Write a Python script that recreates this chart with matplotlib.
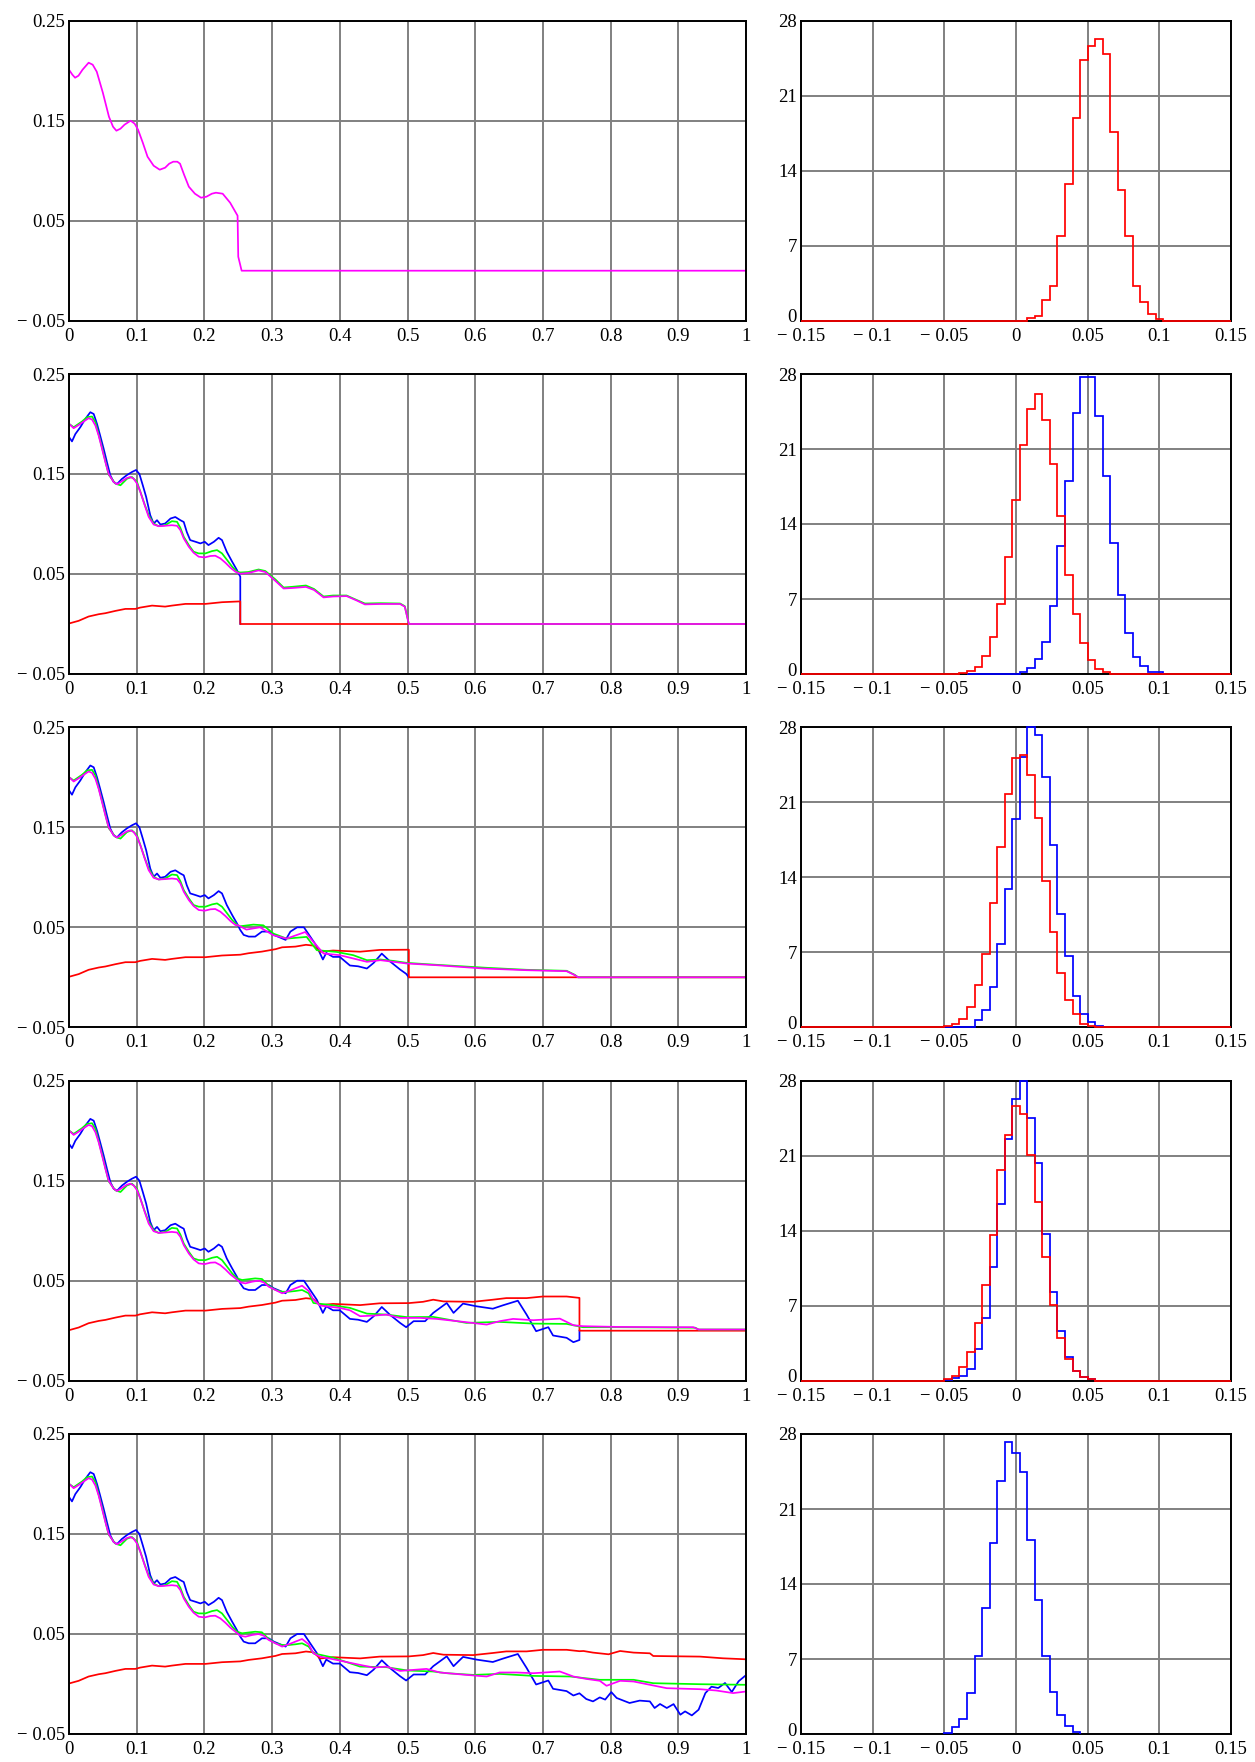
import numpy as np
import matplotlib
matplotlib.use("Agg")
import matplotlib.pyplot as plt
from matplotlib.transforms import ScaledTranslation

plt.rcParams["font.family"] = ["Liberation Serif", "DejaVu Serif"]

# ------------------------------------------------
# left panels: time traces
# ------------------------------------------------
# panel 1, single smoothed trace
p1_t = [0, 0.005, 0.009, 0.014, 0.02, 0.029, 0.035, 0.041, 0.05, 0.059, 0.065,
        0.07, 0.076, 0.082, 0.091, 0.097, 0.102, 0.109, 0.116, 0.125, 0.134,
        0.142, 0.148, 0.154, 0.16, 0.164, 0.17, 0.177, 0.186, 0.195, 0.203,
        0.211, 0.217, 0.227, 0.238, 0.249, 0.25, 0.255, 1.0]
p1_mag = [0.201, 0.196, 0.193, 0.195, 0.201, 0.208, 0.206, 0.199, 0.178, 0.154, 0.144,
          0.14, 0.142, 0.146, 0.15, 0.147, 0.141, 0.128, 0.114, 0.105, 0.101,
          0.103, 0.107, 0.109, 0.109, 0.107, 0.096, 0.084, 0.077, 0.073, 0.074,
          0.077, 0.078, 0.077, 0.068, 0.055, 0.014, 0.0, 0.0]

# filtered estimate (blue), causal: shown up to each panel's horizon
blue_t = [0, 0.0044, 0.0094, 0.0167, 0.024, 0.0315, 0.0365, 0.0414, 0.046, 0.0512,
          0.056, 0.061, 0.066, 0.071, 0.078, 0.0857, 0.093, 0.099, 0.104, 0.109,
          0.114, 0.12, 0.125, 0.13, 0.135, 0.142, 0.15, 0.157, 0.1645, 0.1695,
          0.174, 0.179, 0.187, 0.194, 0.2005, 0.206, 0.214, 0.221, 0.226, 0.233,
          0.241, 0.248, 0.253, 0.258, 0.2655, 0.275, 0.285, 0.295, 0.3025, 0.312,
          0.32, 0.327, 0.337, 0.347, 0.356, 0.366, 0.375, 0.38, 0.39, 0.4,
          0.415, 0.427, 0.44, 0.45, 0.462, 0.474, 0.489, 0.498, 0.509, 0.526,
          0.538, 0.558, 0.568, 0.582, 0.602, 0.626, 0.641, 0.663, 0.676, 0.69,
          0.708, 0.715, 0.735, 0.745, 0.754, 0.764, 0.774, 0.784, 0.792, 0.801,
          0.809, 0.828, 0.843, 0.858, 0.865, 0.873, 0.883, 0.893, 0.903, 0.91,
          0.92, 0.93, 0.94, 0.949, 0.959, 0.969, 0.979, 0.989, 0.999]
blue_v = [0.187, 0.1826, 0.19, 0.1968, 0.205, 0.2118, 0.21, 0.2, 0.1885, 0.1752,
          0.162, 0.1487, 0.142, 0.14, 0.145, 0.149, 0.152, 0.154, 0.15, 0.1387,
          0.127, 0.1088, 0.1005, 0.1038, 0.0995, 0.1005, 0.1055, 0.107, 0.1038, 0.102,
          0.092, 0.0839, 0.0822, 0.0806, 0.0822, 0.0789, 0.0822, 0.0862, 0.0839, 0.0723,
          0.0623, 0.054, 0.0473, 0.0424, 0.0407, 0.0407, 0.0457, 0.0457, 0.0424, 0.0397,
          0.0374, 0.0457, 0.05, 0.05, 0.041, 0.031, 0.0178, 0.0244, 0.0204, 0.0204,
          0.0118, 0.011, 0.0088, 0.0144, 0.0237, 0.016, 0.0078, 0.0035, 0.0095, 0.0095,
          0.0178, 0.0277, 0.0178, 0.0271, 0.0244, 0.022, 0.0254, 0.03, 0.016, -0.0005,
          0.0035, -0.0048, -0.0071, -0.0115, -0.0093, -0.015, -0.0174, -0.0134, -0.0156, -0.0081,
          -0.014, -0.019, -0.0166, -0.0174, -0.024, -0.02, -0.024, -0.0201, -0.0307, -0.0274,
          -0.0314, -0.0257, -0.0091, -0.0027, -0.004, 0.001, -0.008, 0.0027, 0.0083]

# error level (red), causal as well
red_t = [0, 0.0143, 0.029, 0.044, 0.0537, 0.0685, 0.0833, 0.098, 0.105, 0.1227,
         0.142, 0.152, 0.172, 0.2015, 0.226, 0.2458, 0.253, 0.2655, 0.285, 0.305,
         0.3148, 0.3345, 0.35, 0.361, 0.371, 0.39, 0.43, 0.459, 0.502, 0.523,
         0.538, 0.553, 0.597, 0.626, 0.646, 0.676, 0.7, 0.735, 0.754, 0.76,
         0.774, 0.797, 0.814, 0.834, 0.858, 0.863, 0.932, 0.966, 1.0]
red_v = [0.0005, 0.0032, 0.0075, 0.0098, 0.0108, 0.0131, 0.0151, 0.0151, 0.0164, 0.0184,
         0.0174, 0.0184, 0.0201, 0.0201, 0.0218, 0.0224, 0.0226, 0.0241, 0.0257, 0.0281,
         0.03, 0.0307, 0.0325, 0.0317, 0.0255, 0.0268, 0.0256, 0.0274, 0.0276, 0.0289,
         0.031, 0.0293, 0.0289, 0.031, 0.0326, 0.0326, 0.0342, 0.0342, 0.0328, 0.033,
         0.0314, 0.0297, 0.033, 0.0314, 0.0307, 0.028, 0.0274, 0.0257, 0.0247]

# smoothed estimates, beginning shared by panels 2-5
mag_head_t = [0, 0.0069, 0.0143, 0.0217, 0.029, 0.034, 0.039, 0.0438, 0.0488, 0.0537,
              0.0586, 0.066, 0.071, 0.078, 0.0857, 0.0906, 0.0955, 0.1005, 0.1054, 0.1118,
              0.1177, 0.125, 0.1325, 0.142, 0.152, 0.1596, 0.1645, 0.1695, 0.177, 0.184,
              0.1916, 0.2005, 0.2089, 0.216, 0.2236, 0.231, 0.2384, 0.2458]
mag_head_v = [0.2002, 0.1958, 0.199, 0.2025, 0.2058, 0.2045, 0.1985, 0.1885, 0.1752, 0.162,
              0.15, 0.142, 0.1397, 0.1427, 0.146, 0.147, 0.1453, 0.1404, 0.132, 0.1188,
              0.1071, 0.0995, 0.0978, 0.0982, 0.0988, 0.0982, 0.0939, 0.0856, 0.0772, 0.0713,
              0.0673, 0.0666, 0.068, 0.0683, 0.0656, 0.0613, 0.0563, 0.0523]
grn_head_t = [0, 0.0069, 0.0192, 0.0266, 0.034, 0.039, 0.0488, 0.0586, 0.0685, 0.076,
              0.0857, 0.093, 0.1005, 0.1118, 0.1177, 0.125, 0.1325, 0.142, 0.152, 0.1596,
              0.1645, 0.1695, 0.177, 0.184, 0.1916, 0.2015, 0.2113, 0.2187, 0.226, 0.2335,
              0.241, 0.2483]
grn_head_v = [0.2002, 0.1968, 0.2025, 0.2068, 0.2075, 0.2018, 0.1765, 0.1493, 0.1404, 0.1387,
              0.1453, 0.147, 0.142, 0.1195, 0.1088, 0.1005, 0.0978, 0.0988, 0.1028, 0.1022,
              0.0962, 0.0872, 0.0789, 0.0723, 0.0706, 0.0706, 0.0729, 0.0739, 0.0706, 0.064,
              0.0573, 0.0523]

# part from 0.25 to 0.354 shared by panels 4 and 5
mag_mid_t = [0.253, 0.2606, 0.2704, 0.28, 0.2877, 0.295, 0.305, 0.3148, 0.3246, 0.3345,
             0.3443, 0.354]
mag_mid_v = [0.0483, 0.0473, 0.049, 0.05, 0.0483, 0.044, 0.0407, 0.0374, 0.0397, 0.0424,
             0.045, 0.0397]
grn_mid_t = [0.2557, 0.275, 0.285, 0.295, 0.305, 0.3148, 0.3246, 0.3345, 0.3443, 0.354]
grn_mid_v = [0.0507, 0.0523, 0.0517, 0.045, 0.0407, 0.039, 0.039, 0.0397, 0.0407, 0.0374]

# per-panel tails
mag_p2_t = [0.253, 0.265, 0.28, 0.29, 0.305, 0.317, 0.33, 0.35, 0.362, 0.376,
            0.39, 0.41, 0.425, 0.437, 0.46, 0.489, 0.496, 0.502, 1.0]
mag_p2_v = [0.0503, 0.051, 0.0536, 0.052, 0.043, 0.0355, 0.036, 0.0371, 0.034, 0.0266,
            0.0275, 0.0279, 0.0235, 0.0196, 0.02, 0.02, 0.0173, 0.0, 0.0]
grn_p2_t = [0.253, 0.265, 0.28, 0.29, 0.305, 0.317, 0.33, 0.35, 0.362, 0.376,
            0.39, 0.41, 0.425, 0.437, 0.46, 0.489, 0.496, 0.502, 1.0]
grn_p2_v = [0.0515, 0.052, 0.0545, 0.053, 0.0445, 0.0365, 0.0372, 0.0385, 0.035, 0.0275,
            0.0285, 0.0285, 0.024, 0.0205, 0.0208, 0.0205, 0.0178, 0.0, 0.0]

mag_p3_t = [0.25, 0.262, 0.282, 0.302, 0.3215, 0.349, 0.361, 0.376, 0.4, 0.42,
            0.44, 0.46, 0.479, 0.499, 0.543, 0.612, 0.676, 0.735, 0.747, 0.752, 1.0]
mag_p3_v = [0.052, 0.0477, 0.05, 0.042, 0.0387, 0.0453, 0.0354, 0.0238, 0.0221, 0.0188,
            0.0155, 0.0171, 0.0155, 0.0138, 0.0121, 0.0088, 0.0071, 0.0061, 0.0022, 0.0, 0.0]
grn_p3_t = [0.2526, 0.2723, 0.287, 0.302, 0.3215, 0.351, 0.366, 0.395, 0.42, 0.44,
            0.46, 0.479, 0.499, 0.543, 0.617, 0.676, 0.735, 0.747, 0.752, 1.0]
grn_p3_v = [0.051, 0.0527, 0.052, 0.0437, 0.0387, 0.0404, 0.0271, 0.0254, 0.0221, 0.0171,
            0.0178, 0.0164, 0.0144, 0.0125, 0.0095, 0.0075, 0.0065, 0.0025, 0.0, 0.0]

mag_p4_t = [0.361, 0.371, 0.4, 0.415, 0.43, 0.45, 0.469, 0.489, 0.518, 0.543,
            0.587, 0.617, 0.636, 0.656, 0.686, 0.725, 0.745, 0.759, 0.809, 0.883,
            0.922, 0.93, 1.0]
mag_p4_v = [0.0311, 0.0251, 0.0228, 0.0204, 0.0145, 0.0151, 0.0161, 0.0128, 0.0128, 0.0118,
            0.0085, 0.0061, 0.0095, 0.0118, 0.0105, 0.0121, 0.0055, 0.0045, 0.0038, 0.0035,
            0.0035, 0.0012, 0.0012]
grn_p4_t = [0.361, 0.39, 0.415, 0.44, 0.469, 0.5, 0.538, 0.587, 0.636, 0.686,
            0.735, 0.759, 0.809, 0.883, 0.925, 0.93, 1.0]
grn_p4_v = [0.0277, 0.0254, 0.0228, 0.0171, 0.0161, 0.0135, 0.0138, 0.0078, 0.0088, 0.0071,
            0.0068, 0.0035, 0.0035, 0.0032, 0.003, 0.0012, 0.0012]

mag_p5_t = [0.361, 0.371, 0.4, 0.43, 0.45, 0.469, 0.489, 0.528, 0.548, 0.587,
            0.617, 0.636, 0.661, 0.686, 0.725, 0.745, 0.764, 0.784, 0.794, 0.814,
            0.834, 0.858, 0.883, 0.932, 0.956, 0.981, 1.0]
mag_p5_v = [0.0307, 0.0274, 0.0234, 0.0191, 0.0164, 0.0174, 0.0131, 0.0151, 0.0115, 0.0091,
            0.0075, 0.0115, 0.0115, 0.0108, 0.0125, 0.0075, 0.0051, 0.0032, -0.0018, 0.0032,
            0.0025, -0.0008, -0.0042, -0.0052, -0.0065, -0.0091, -0.0075]
grn_p5_t = [0.361, 0.39, 0.43, 0.469, 0.5, 0.538, 0.558, 0.597, 0.636, 0.686,
            0.74, 0.784, 0.834, 0.863, 0.932, 1.0]
grn_p5_v = [0.0307, 0.0264, 0.0174, 0.0168, 0.0135, 0.0125, 0.0108, 0.0091, 0.0101, 0.0081,
            0.0075, 0.0042, 0.0042, 0.0008, -0.0002, -0.0008]

# time where blue/red stop in panels 2-4 (panel 5 runs to the end)
horizons = [0.253, 0.502, 0.754, 1.01]

# ------------------------------------------------
# right panels: histograms, 57 bins over [-0.15, 0.15]
# (first bin index, counts)
# ------------------------------------------------
N_BINS = 57
hist_red = [
    (30, [0.25, 0.47, 1.9, 3.2, 7.9, 12.75, 18.96, 24.3, 25.6, 26.3,
          24.85, 17.65, 12.2, 7.9, 3.2, 1.75, 0.62, 0.15]),
    (21, [0.12, 0.31, 0.62, 1.71, 3.48, 6.53, 10.95, 16.24, 21.37, 24.73,
          26.1, 23.7, 19.6, 14.75, 9.2, 5.57, 2.86, 1.3, 0.47, 0.16]),
    (19, [0.12, 0.31, 0.78, 1.93, 3.95, 6.88, 11.64, 16.83, 21.78, 25.17,
          25.42, 23.52, 19.5, 13.66, 8.87, 5.1, 2.52, 1.21, 0.28, 0.12]),
    (19, [0.16, 0.47, 1.31, 2.71, 5.36, 8.89, 13.56, 19.64, 22.92, 25.63,
          24.88, 21.11, 16.68, 11.54, 7.11, 3.96, 2.03, 0.87, 0.37, 0.12]),
    None,
]
hist_blue = [
    None,
    (22, [0, 0, 0, 0, 0, 0, 0, 0.16, 0.6, 1.4, 3.0, 6.38, 11.95, 18.0, 24.4,
          27.75, 27.75, 24.1, 18.5, 12.26, 7.37, 3.86, 1.62, 0.78, 0.22, 0.22]),
    (19, [0, 0, 0, 0.06, 0.65, 1.59, 3.8, 7.78, 12.9, 19.4, 25.2, 28.0, 27.3,
          23.4, 17.0, 10.6, 6.7, 2.96, 1.24, 0.53, 0.16]),
    (19, [0.06, 0.25, 0.47, 1.09, 2.96, 5.86, 10.6, 16.5, 22.6, 26.25,
          28.0, 24.48, 20.36, 13.65, 8.26, 4.61, 2.24, 0.87, 0.37, 0.12]),
    (19, [0.12, 0.62, 1.4, 3.8, 7.28, 11.73, 17.8, 23.65, 27.3, 26.2,
          24.5, 18.1, 12.5, 7.28, 3.95, 1.77, 0.78, 0.22]),
]

W, H = 1255, 1762
row_tops = [20.7, 374, 727.3, 1080.7, 1434]
ROW_H = 300
LEFT_X, LEFT_W = 69, 677
RIGHT_X, RIGHT_W = 801, 430

RED, BLUE, GREEN, MAG = "#ff0000", "#0000ff", "#00ff00", "#ff00ff"
LW = 1.25
FS = 13.5


def style_axes(ax):
    ax.grid(True, color="#808080", linewidth=1.4)
    ax.set_axisbelow(True)
    for sp in ax.spines.values():
        sp.set_color("black")
        sp.set_linewidth(1.4)
        sp.set_zorder(2.5)
    ax.tick_params(length=0, labelsize=FS, colors="black")
    ax.tick_params(axis="x", pad=5)
    ax.tick_params(axis="y", pad=3)


def cut(t, v, h):
    t = np.asarray(t)
    v = np.asarray(v)
    keep = t <= h
    return np.append(t[keep], h), np.append(v[keep], 0.0)


fig = plt.figure(figsize=(W / 100, H / 100), dpi=100)
# the "0" of the histogram axes sits a little higher so it clears the x labels
lift = ScaledTranslation(0, 5 / 100, fig.dpi_scale_trans)

for i, top in enumerate(row_tops):
    bottom = 1 - (top + ROW_H) / H

    # ---- time traces ----
    ax = fig.add_axes([LEFT_X / W, bottom, LEFT_W / W, ROW_H / H])
    style_axes(ax)
    ax.set_xlim(0, 1)
    ax.set_ylim(-0.05, 0.25)
    ax.set_xticks(np.arange(0, 1.01, 0.1))
    ax.set_xticklabels(["0", "0.1", "0.2", "0.3", "0.4", "0.5", "0.6", "0.7",
                        "0.8", "0.9", "1"])
    ax.set_yticks([-0.05, 0.05, 0.15, 0.25])
    ax.set_yticklabels(["\u2212 0.05", "0.05", "0.15", "0.25"])

    if i == 0:
        ax.plot(p1_t, p1_mag, color=MAG, lw=LW)
    else:
        h = horizons[i - 1]
        bt, bv = cut(blue_t, blue_v, h)
        ax.plot(bt, bv, color=BLUE, lw=LW)
        rt, rv = cut(red_t, red_v, h)
        if h < 1:
            rt = np.append(rt, 1.0)
            rv = np.append(rv, 0.0)
        ax.plot(rt, rv, color=RED, lw=LW)

        if i == 1:
            gt = grn_head_t + grn_p2_t
            gv = grn_head_v + grn_p2_v
            mt = mag_head_t + mag_p2_t
            mv = mag_head_v + mag_p2_v
        elif i == 2:
            gt = grn_head_t + grn_p3_t
            gv = grn_head_v + grn_p3_v
            mt = mag_head_t + mag_p3_t
            mv = mag_head_v + mag_p3_v
        elif i == 3:
            gt = grn_head_t + grn_mid_t + grn_p4_t
            gv = grn_head_v + grn_mid_v + grn_p4_v
            mt = mag_head_t + mag_mid_t + mag_p4_t
            mv = mag_head_v + mag_mid_v + mag_p4_v
        else:
            gt = grn_head_t + grn_mid_t + grn_p5_t
            gv = grn_head_v + grn_mid_v + grn_p5_v
            mt = mag_head_t + mag_mid_t + mag_p5_t
            mv = mag_head_v + mag_mid_v + mag_p5_v
        ax.plot(gt, gv, color=GREEN, lw=LW)
        ax.plot(mt, mv, color=MAG, lw=LW)

    # ---- histograms ----
    axh = fig.add_axes([RIGHT_X / W, bottom, RIGHT_W / W, ROW_H / H])
    style_axes(axh)
    axh.set_xlim(-0.15, 0.15)
    axh.set_ylim(0, 28)
    axh.set_xticks([-0.15, -0.1, -0.05, 0, 0.05, 0.1, 0.15])
    axh.set_xticklabels(["\u2212 0.15", "\u2212 0.1", "\u2212 0.05", "0",
                         "0.05", "0.1", "0.15"])
    axh.set_yticks([0, 7, 14, 21, 28])
    axh.set_yticklabels(["0", "7", "14", "21", "28"])
    zero = axh.get_yticklabels()[0]
    zero.set_transform(zero.get_transform() + lift)

    edges = np.linspace(-0.15, 0.15, N_BINS + 1)
    if hist_blue[i] is not None:
        k0, counts = hist_blue[i]
        axh.stairs(counts, edges[k0:k0 + len(counts) + 1], baseline=0,
                   color=BLUE, lw=LW, clip_on=False, zorder=3)
    if hist_red[i] is not None:
        k0, counts = hist_red[i]
        full = np.zeros(N_BINS)
        full[k0:k0 + len(counts)] = counts
        axh.stairs(full, edges, baseline=0, color=RED, lw=LW,
                   clip_on=False, zorder=3.1)

fig.savefig("out.png", dpi=100)
